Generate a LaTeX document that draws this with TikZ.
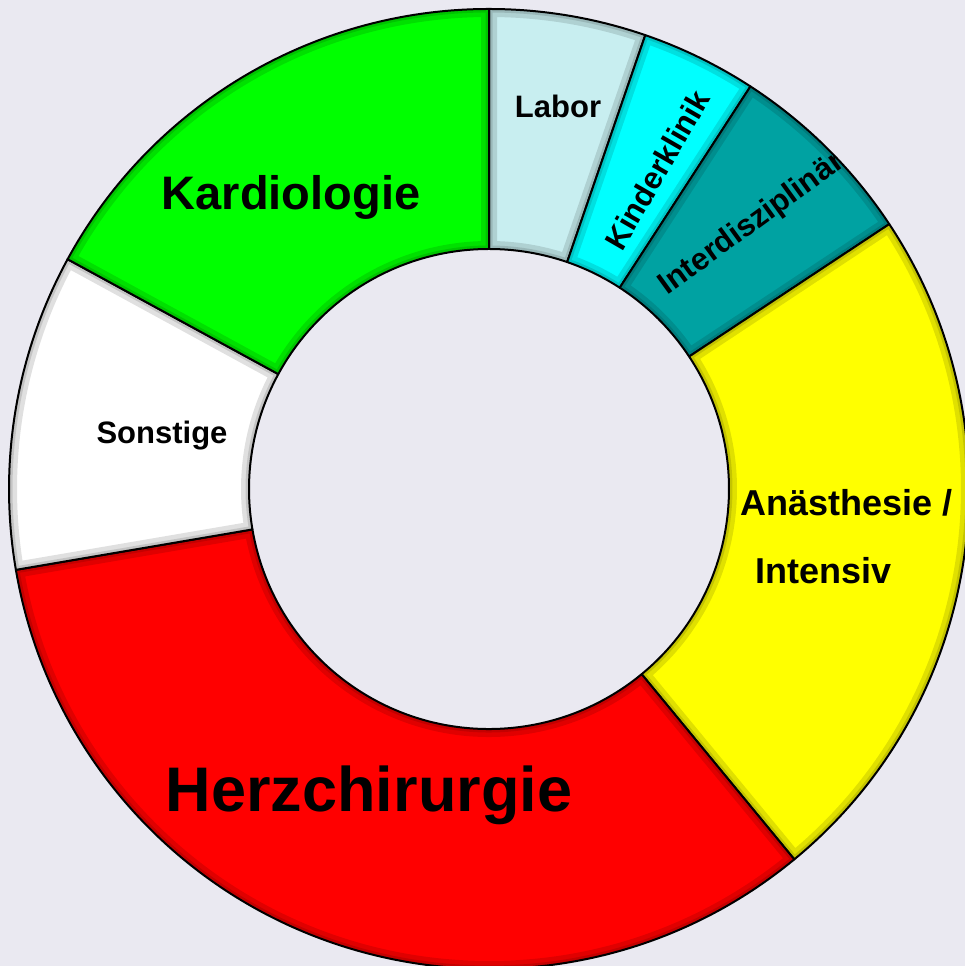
\documentclass[tikz,border=0pt]{standalone}
\usepackage{fontspec}
\setmainfont{Liberation Sans}
\definecolor{Backdrop}{RGB}{234,233,241}
\definecolor{LaborBlue}{RGB}{200,238,240}
\definecolor{KinderCyan}{RGB}{0,255,255}
\definecolor{InterTeal}{RGB}{0,162,162}
\definecolor{AnaesYellow}{RGB}{255,255,0}
\definecolor{HerzRed}{RGB}{255,0,0}
\definecolor{SonstWhite}{RGB}{255,255,255}
\definecolor{KardioGreen}{RGB}{0,255,0}
\tikzset{
  ringpart/.style={draw=black,line width=2pt,line join=round},
  bevel/.style={draw=black,line join=round,opacity=0.12},
  slicelabel/.style={inner sep=0pt,text=black,font=\bfseries\fontsize{31}{37}\selectfont}
}
\begin{document}
\begin{tikzpicture}[x=1pt,y=1pt]
\fill[Backdrop] (0,0) rectangle (965,966);
\useasboundingbox (0,0) rectangle (965,966);
\begin{scope}[shift={(489,477)}]
% ring slices: start angle / end angle / colour
\foreach \from/\to/\slicecol in {90/71/LaborBlue,71/57/KinderCyan,57/33.5/InterTeal,33.5/-50.5/AnaesYellow,-50.5/-170.3/HerzRed,-170.3/-208.6/SonstWhite,-208.6/-270/KardioGreen}{
  \fill[\slicecol] (\from:480) arc[start angle=\from,end angle=\to,radius=480] -- (\to:240) arc[start angle=\to,end angle=\from,radius=240] -- cycle;
  \begin{scope}
    \clip (\from:480) arc[start angle=\from,end angle=\to,radius=480] -- (\to:240) arc[start angle=\to,end angle=\from,radius=240] -- cycle;
    \draw[bevel,line width=16pt] (\from:480) arc[start angle=\from,end angle=\to,radius=480] -- (\to:240) arc[start angle=\to,end angle=\from,radius=240] -- cycle;
    \draw[bevel,line width=7pt] (\from:480) arc[start angle=\from,end angle=\to,radius=480] -- (\to:240) arc[start angle=\to,end angle=\from,radius=240] -- cycle;
  \end{scope}
  \draw[ringpart] (\from:480) arc[start angle=\from,end angle=\to,radius=480] -- (\to:240) arc[start angle=\to,end angle=\from,radius=240] -- cycle;
}
% labels
\node[slicelabel,anchor=base] (labor) at (69,371) {Labor};
\node[slicelabel,rotate=60] (kinder) at (168,319) {Kinderklinik};
\begin{scope}
  \clip (57:480) arc[start angle=57,end angle=33.5,radius=480] -- (33.5:240) arc[start angle=33.5,end angle=57,radius=240] -- cycle;
  \node[slicelabel,rotate=36] (inter) at (263,265) {Interdisziplinär};
\end{scope}
\node[slicelabel,anchor=north west,align=left,font=\bfseries\fontsize{36}{68}\selectfont] (anaes) at (251,0) {Anästhesie /\\\hspace*{15pt}Intensiv};
\node[slicelabel,anchor=base,font=\bfseries\fontsize{63}{70}\selectfont] (herz) at (-120,-323) {Herzchirurgie};
\node[slicelabel,anchor=base] (sonst) at (-327,45) {Sonstige};
\node[slicelabel,anchor=base,font=\bfseries\fontsize{47}{54}\selectfont] (kardio) at (-198,279) {Kardiologie};
\end{scope}
\end{tikzpicture}
\end{document}
